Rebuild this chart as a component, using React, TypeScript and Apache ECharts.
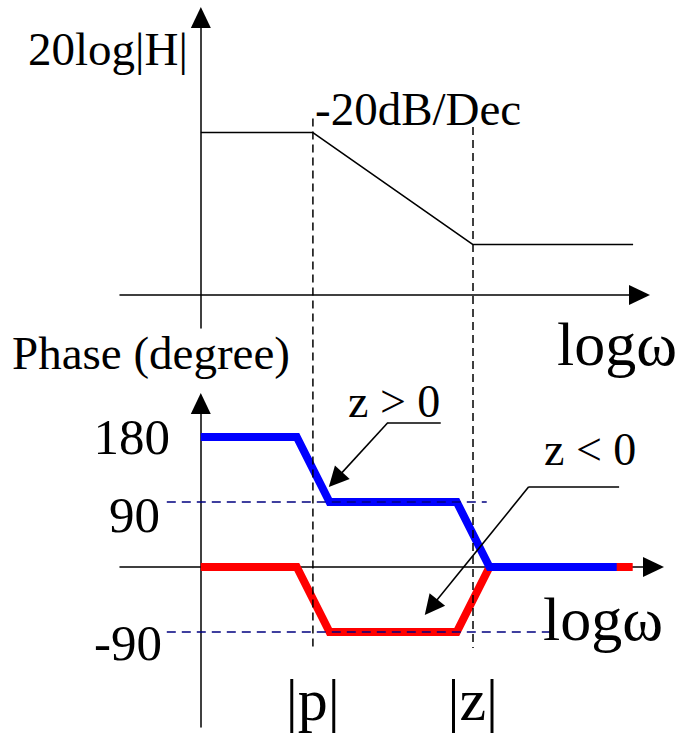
import React, { useEffect, useRef } from "react";
import * as echarts from "echarts";

// Break frequencies on the log-omega axis (decades)
const P_BREAK = 1.4;
const Z_BREAK = 3.4;

// Asymptotic magnitude, 20log|H| in dB
const magLogW = [0, P_BREAK, Z_BREAK, 5.4];
const magDb = [58, 58, 18, 18];

// Phase for z > 0 (blue) and z < 0 (red), degrees
const phaseLogWPos = [0, 1.2, 1.61, 3.2, 3.61, 5.2];
const phaseDegPos = [180, 180, 90, 90, 0, 0];
const phaseLogWNeg = [0, 1.2, 1.61, 3.2, 3.61, 5.4];
const phaseDegNeg = [0, 0, -90, -90, 0, 0];

// Labelled phase ticks and break-frequency labels
const phaseTicks = [180, 90, -90];
const breakValues = [P_BREAK, Z_BREAK];
const breakLabels = ["|p|", "|z|"];

// Guide lines at +/-90 degrees: [start logw, end logw, level]
const guide90 = [-0.425, 3.575, 90];
const guideM90 = [-0.425, 4.425, -90];

// Pointer annotations: end of horizontal leg, elbow, arrow-head centre (logw, deg)
const pointerPos = { tail: [3.0, 200], elbow: [2.34, 200], head: [1.685, 121] };
const pointerNeg = { tail: [5.23, 111], elbow: [4.1, 111], head: [2.879, -55.7] };

// Extent of the vertical dashed guides at |p| and |z|
const guideTopDb = [63, 60];
const guideBottomDeg = -112;

const FONT = '"Liberation Serif", "Times New Roman", serif';

function zip(xs: number[], ys: number[]) {
  return xs.map((x, i) => [x, ys[i]]);
}

export default function App() {
  const ref = useRef<HTMLDivElement>(null);

  useEffect(() => {
    if (!ref.current) return;
    const chart = echarts.init(ref.current, null, { renderer: "svg" });

    const axisLine = {
      show: true,
      onZero: true,
      symbol: ["none", "triangle"],
      symbolSize: [20, 21],
      lineStyle: { color: "#000", width: 1.5 },
    };

    const txt = (text: string, x: number, y: number, size: number) => ({
      type: "text",
      x,
      y,
      z: 50,
      silent: true,
      style: {
        text,
        fill: "#000",
        fontSize: size,
        fontFamily: FONT,
        align: "left",
        verticalAlign: "middle",
      },
    });

    const seg = (a: number[], b: number[], arrow = false) => [
      { coord: a, symbol: "none" },
      arrow
        ? { coord: b, symbol: "triangle", symbolSize: [20, 20] }
        : { coord: b, symbol: "none" },
    ];

    const option: any = {
      animation: false,
      backgroundColor: "#fff",
      grid: [
        { left: 120, top: 17.5, width: 519.5, height: 310.5, outerBoundsMode: "none", containLabel: false },
        { left: 120, top: 403.5, width: 533.5, height: 323.5, outerBoundsMode: "none", containLabel: false },
      ],
      xAxis: [
        {
          type: "value",
          gridIndex: 0,
          min: -1.01,
          max: 5.48,
          axisLine,
          axisTick: { show: false },
          axisLabel: { show: false },
          splitLine: { show: false },
        },
        {
          type: "value",
          gridIndex: 1,
          min: -1.01,
          max: 5.66,
          axisLine,
          axisTick: { show: false },
          axisLabel: {
            show: true,
            customValues: breakValues,
            formatter: (v: number) => breakLabels[breakValues.indexOf(v)] ?? "",
            fontFamily: FONT,
            fontSize: 60,
            color: "#000",
            verticalAlign: "middle",
            margin: -27,
            hideOverlap: false,
          },
          splitLine: { show: false },
        },
      ],
      yAxis: [
        {
          type: "value",
          gridIndex: 0,
          min: -11.8,
          max: 99.1,
          axisLine,
          axisTick: { show: false },
          axisLabel: { show: false },
          splitLine: { show: false },
        },
        {
          type: "value",
          gridIndex: 1,
          min: -221.5,
          max: 226.4,
          axisLine,
          axisTick: { show: false },
          axisLabel: {
            show: true,
            customValues: phaseTicks,
            showMinLabel: true,
            showMaxLabel: true,
            hideOverlap: false,
            margin: -50,
            formatter: (v: number) =>
              v === 180 ? `{a|${v}}` : v === 90 ? `{b|${v}}` : `{c|${v}}`,
            rich: {
              a: { fontFamily: FONT, fontSize: 51, color: "#000" },
              b: { fontFamily: FONT, fontSize: 51, color: "#000", padding: [25, 10, 0, 0] },
              c: { fontFamily: FONT, fontSize: 51, color: "#000", padding: [22, 8, 0, 0] },
            },
          },
          splitLine: { show: false },
        },
      ],
      series: [
        {
          name: "20log|H|",
          type: "line",
          xAxisIndex: 0,
          yAxisIndex: 0,
          data: zip(magLogW, magDb),
          symbol: "none",
          lineStyle: { color: "#000", width: 1.6 },
          silent: true,
        },
        {
          name: "z < 0",
          type: "line",
          xAxisIndex: 1,
          yAxisIndex: 1,
          data: zip(phaseLogWNeg, phaseDegNeg),
          symbol: "none",
          lineStyle: { color: "#ff0000", width: 8, cap: "butt", join: "miter" },
          silent: true,
        },
        {
          name: "z > 0",
          type: "line",
          xAxisIndex: 1,
          yAxisIndex: 1,
          data: zip(phaseLogWPos, phaseDegPos),
          symbol: "none",
          lineStyle: { color: "#0000ff", width: 8, cap: "butt", join: "miter" },
          silent: true,
        },
        {
          name: "guides",
          type: "line",
          xAxisIndex: 1,
          yAxisIndex: 1,
          data: [],
          silent: true,
          markLine: {
            silent: true,
            symbol: "none",
            label: { show: false },
            emphasis: { disabled: true },
            lineStyle: { color: "#000080", width: 1.5, type: [9, 6] },
            data: [
              [{ coord: [guide90[0], guide90[2]] }, { coord: [guide90[1], guide90[2]] }],
              [{ coord: [guideM90[0], guideM90[2]] }, { coord: [guideM90[1], guideM90[2]] }],
            ],
          },
        },
        {
          name: "pointers",
          type: "line",
          xAxisIndex: 1,
          yAxisIndex: 1,
          data: [],
          silent: true,
          markLine: {
            silent: true,
            symbol: "none",
            label: { show: false },
            emphasis: { disabled: true },
            lineStyle: { color: "#000", width: 1.6, type: "solid" },
            itemStyle: { color: "#000" },
            data: [
              seg(pointerPos.tail, pointerPos.elbow),
              seg(pointerPos.elbow, pointerPos.head, true),
              seg(pointerNeg.tail, pointerNeg.elbow),
              seg(pointerNeg.elbow, pointerNeg.head, true),
            ],
          },
        },
      ],
      graphic: [
        txt("20log|H|", 28, 49, 47),
        txt("-20dB/Dec", 315, 109, 47),
        txt("logω", 557, 344, 62),
        txt("Phase (degree)", 12, 353, 47),
        txt("z > 0", 348, 401, 46),
        txt("z < 0", 544, 449, 46),
        txt("logω", 543, 619, 62),
      ],
    };

    chart.setOption(option);

    // Vertical dashed guides spanning both panels at |p| and |z|
    const guides = breakValues.map((x, i) => {
      const top = chart.convertToPixel({ gridIndex: 0 }, [x, guideTopDb[i]]) as number[];
      const bottom = chart.convertToPixel({ gridIndex: 1 }, [x, guideBottomDeg]) as number[];
      return {
        type: "line",
        z: 40,
        silent: true,
        shape: { x1: top[0], y1: top[1], x2: top[0], y2: bottom[1] },
        style: { stroke: "#000", lineWidth: 1.5, lineDash: [8, 5] },
      };
    });
    chart.setOption({ graphic: [...option.graphic, ...guides] }, { replaceMerge: ["graphic"] });

    return () => chart.dispose();
  }, []);

  return (
    <div
      ref={ref}
      style={{ position: "fixed", left: 0, top: 0, width: 685, height: 733, background: "#fff" }}
    />
  );
}
